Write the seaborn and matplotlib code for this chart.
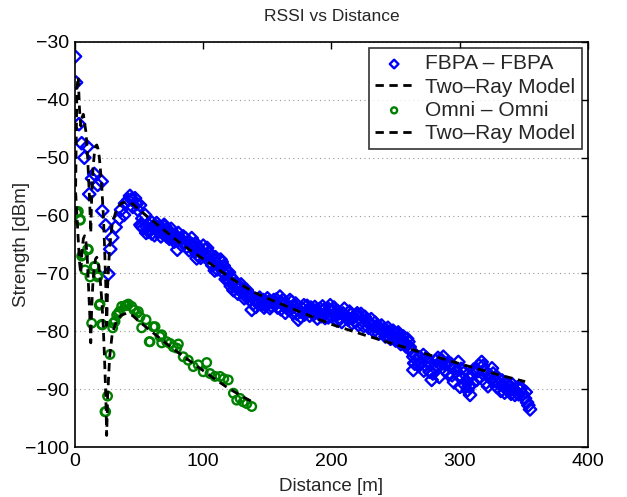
import numpy as np
import pandas as pd
import seaborn as sns
import matplotlib.pyplot as plt

# Measured RSSI, FBPA - FBPA link
fbpa_x = [0, 0.8, 3.1, 5.2, 7.3, 9.6, 11.1, 13.3, 15.0, 17.7, 20.8, 21.3, 23.9, 26.0, 27.5, 29.1,
          31.7, 34.6, 35.9, 38.2, 39.0, 41.6,
          42.9, 44, 46.8, 48, 50.7, 51, 52, 53.3, 54.6, 56, 57, 58.5, 59.8, 61, 62.5, 63.7, 65, 66.5,
          68, 68.9, 70.2, 71.5, 72.8, 74, 75.5, 76.7, 78, 79.3, 79.8, 81, 82.5, 84.4, 85.5, 87.1,
          88.5, 90, 91, 92.5, 93.6, 94.9, 96, 97.5, 99, 100, 101.4, 102.5, 104, 105.3, 106.5, 108,
          109, 110.5, 112, 113, 114.4, 115.6, 117, 118.3, 119.5, 121, 122.3, 123.5, 125, 126.5,
          128.7, 130, 131.5, 133, 135.1, 136.5, 137.8, 139, 140.5, 142, 144, 145.5, 146.8, 148.5,
          150, 151.5, 153, 155, 156.5, 158, 159.8, 161, 163, 165.1, 166.5, 167.6, 169, 170.5,
          171.5, 173, 174.1, 175.4, 177, 178.5, 180, 182, 184, 186, 188, 190, 192, 194, 196,
          197.5, 199, 201, 203, 205, 207, 209, 211, 213, 215, 217, 218.5, 220, 222, 224, 226,
          228, 230, 232, 234, 236, 238, 240, 241.5, 243, 245, 247, 249, 251, 253, 255, 257, 259,
          261, 262.5, 263.8, 265, 263.8, 267, 269, 271.6, 273, 275, 276.5, 278.1, 280, 281.5,
          283, 285, 287.2, 289, 290.5, 292.4, 294, 295.5, 297, 298.9, 300.2, 302, 304, 306, 308,
          309.5, 311, 313.2, 315, 317.1, 319, 320.5, 322, 323.5, 325.1, 327, 328.8, 330.5, 332,
          334, 336.6, 338, 340, 342, 344, 347, 349, 350.9, 352.5, 354.8,
          45, 47.5, 49, 52.5, 55.5, 57.5, 60, 62, 64.5, 67, 69.5, 71, 73.5, 75, 77.5, 80.5, 83,
          84, 86, 89, 91.5, 94, 95.5, 98, 100.5, 103, 105, 107, 109.5, 111, 113.5, 116, 117.5,
          120, 121.5, 124, 127, 129.5, 132, 134, 138, 141, 143, 147.5, 149, 152, 154, 157, 160.5,
          162, 164, 168, 170, 172, 176, 179, 181, 183, 185, 187, 189, 191, 193, 195, 198, 200,
          202, 204, 206, 208, 210, 212, 214, 216, 219, 221, 223, 225, 227, 229, 231, 233, 235,
          237, 239, 242, 244, 246, 248, 250, 252, 254, 256, 258, 260,
          264.5, 266, 268, 270, 272, 274, 277, 279, 282, 284, 286, 288, 291, 293, 296, 299.5,
          301, 303, 305, 307, 310, 312, 314, 316, 318, 321, 324, 326, 329.5, 331, 333, 335, 337,
          339, 341, 343, 345, 346, 348, 351.5, 353.5]
fbpa_y = [-32.5, -37.0, -44.2, -47.5, -50.0, -48.1, -56.3, -53.6, -52.8, -54.7, -54.1, -59.2, -61.7,
          -70.1, -65.8, -63.8, -62.0, -60.5, -59.0, -59.9, -57.9, -57.3,
          -56.6, -57.2, -57.0, -58.0, -58.2, -61.6, -61.9, -62.2, -59.9, -62.0, -61.5, -62.5,
          -63.1, -62.0, -61.8, -61.3, -62.8, -62.2, -63.0, -62.5, -61.9, -63.6, -63.4, -62.8,
          -63.2, -63.9, -63.3, -63.9, -65.9, -64.2, -64.0, -63.6, -64.8, -65.4, -64.5, -65.0,
          -63.9, -65.6, -66.2, -67.4, -65.5, -66.0, -66.5, -65.2, -65.9, -66.8, -67.2, -68.0,
          -67.0, -67.5, -69.5, -68.2, -68.6, -69.0, -68.0, -69.7, -70.2, -69.6, -71.1, -70.5,
          -71.8, -72.9, -71.9, -72.6, -72.3, -73.2, -72.8, -73.9, -73.7, -74.5, -76.3, -75.2,
          -74.6, -75.0, -74.2, -75.4, -74.6, -75.5, -74.3, -74.8, -75.6, -74.6, -75.3, -75.9,
          -74.0, -75.0, -75.6, -75.7, -76.3, -74.6, -74.9, -75.8, -76.6, -77.0, -78.0, -76.6,
          -76.0, -75.5, -76.8, -76.2, -75.9, -77.1, -76.4, -76.9, -77.4, -76.3, -76.8, -77.6,
          -75.5, -76.5, -77.2, -76.6, -77.8, -76.9, -77.3, -78.0, -77.1, -77.6, -78.3, -76.9,
          -77.8, -78.2, -77.5, -78.4, -78.6, -79.0, -78.5, -79.3, -79.5, -80.0, -79.6, -80.6,
          -80.1, -80.8, -80.3, -81.2, -80.6, -81.5, -82.0, -81.3, -82.7, -83.5, -84.4, -85.6,
          -86.7, -85.0, -84.5, -84.1, -85.9, -85.2, -87.0, -88.4, -86.2, -85.1, -84.6, -85.8,
          -84.4, -86.8, -85.5, -86.1, -87.6, -88.8, -86.9, -85.3, -89.6, -88.0, -89.3, -90.2,
          -91.0, -87.5, -86.6, -88.4, -85.9, -85.3, -86.7, -88.9, -89.5, -87.6, -86.4, -88.6,
          -89.6, -88.9, -90.3, -89.4, -90.1, -89.5, -90.8, -90.0, -90.5, -90.1, -90.8, -91.6,
          -92.3, -93.5,
          -58.5, -57.8, -59.0, -60.5, -63.0, -62.8, -61.2, -63.4, -62.0, -63.6, -61.6, -62.4,
          -64.0, -62.3, -64.5, -63.0, -65.1, -64.6, -63.9, -66.0, -65.0, -64.8, -66.8, -67.3,
          -67.0, -65.6, -66.5, -68.6, -67.2, -69.3, -67.6, -68.7, -71.0, -69.8, -72.2, -71.2,
          -73.5, -71.9, -74.3, -72.9, -74.0, -75.8, -74.8, -75.9, -74.9, -76.0, -75.0, -74.5,
          -76.2, -74.6, -76.8, -75.9, -76.9, -75.2, -77.5, -77.1, -75.6, -77.3, -76.6, -75.8,
          -77.8, -76.1, -75.7, -77.7, -76.2, -77.4, -75.9, -78.1, -76.9, -78.4, -76.1, -77.7,
          -76.6, -78.6, -77.2, -78.9, -77.0, -79.1, -78.0, -79.4, -77.9, -80.0, -79.2, -80.4,
          -79.0, -80.9, -79.4, -81.3, -79.9, -81.6, -80.2, -82.2, -80.9, -82.6, -81.8,
          -85.5, -84.2, -86.0, -85.3, -86.8, -84.6, -85.5, -87.3, -86.0, -87.9, -85.0, -85.6,
          -87.4, -85.6, -86.3, -87.8, -86.5, -87.2, -88.6, -89.5, -89.0, -87.0, -86.9, -87.9,
          -86.0, -87.4, -88.2, -87.3, -88.0, -89.1, -88.5, -90.6, -89.0, -90.2, -89.2, -91.0,
          -89.7, -90.9, -89.8, -90.5, -92.8]

# Measured RSSI, Omni - Omni link
omni_x = [1.3, 2.6, 3.9, 4.2, 5.2, 6.5, 7.8, 9.9, 10.4, 11.7, 13.0, 15.0, 15.6, 17.7, 18.2, 19.0,
          19.5, 20.8, 21.3, 23.4, 23.9, 25.4, 27.3, 29.4, 29.9, 31.2, 32.5, 33.8, 34.6, 36.4, 39.0,
          40.3, 41.6, 44.2, 46.0, 48.1, 49.4, 50.7, 52.0, 55.4, 57.9, 58.5, 61.0, 62.4, 66.3,
          67.6, 67.6, 71.5, 74.1, 76.7, 79.3, 80.6, 84.4, 88.3, 92.2, 96.1, 100.0, 102.7, 105.3,
          109.2, 113.1, 116.0, 119.5, 123.5, 126.1, 128.7, 131.2, 134.0, 137.8]
omni_y = [-59.5, -59.3, -60.8, -60.7, -67.0, -66.8, -69.4, -65.8, -65.9, -70.6, -78.6, -68.8,
          -68.8, -70.6, -70.3, -75.5, -75.3, -78.8, -78.9, -93.9, -93.9, -91.2, -84.0, -79.4,
          -78.6, -78.3, -77.2, -76.9, -76.6, -75.7, -75.6, -75.5, -75.3, -75.7, -76.3, -76.9,
          -76.6, -77.5, -79.4, -78.0, -81.8, -81.8, -79.2, -79.2, -80.9, -80.6, -82.0, -81.8,
          -82.1, -82.7, -82.9, -82.2, -84.4, -85.0, -86.1, -85.8, -87.0, -85.4, -87.3, -87.8,
          -87.8, -88.2, -88.4, -90.7, -91.9, -91.6, -92.2, -92.5, -93.0]

# Two-ray model curves
model_fbpa_x = [0.5, 1.5, 2.5, 3.5, 4.5, 5.5, 6.5, 7.5, 8.5, 9.5, 10.5, 11.5, 12.3, 13, 14, 15,
                16, 17, 18, 19, 20, 21, 22, 23, 24, 24.7, 25.5, 27, 29, 32, 36, 40, 45, 50, 60,
                70, 80, 90, 100, 110, 120, 130, 140, 150, 175, 200, 225, 250, 275, 300, 325, 351]
model_fbpa_y = [-55.0, -38.0, -36.0, -41.5, -44.5, -43.0, -42.5, -44.0, -45.5, -48.5, -53.0,
                -58.0, -63.0, -57.0, -52.0, -49.5, -48.0, -47.8, -48.5, -50.0, -52.5, -55.5,
                -59.5, -65.0, -72.0, -79.0, -72.0, -65.5, -61.5, -59.2, -57.9, -57.6, -58.0,
                -59.0, -60.8, -62.6, -64.4, -66.0, -67.5, -69.0, -70.6, -72.0, -73.3, -74.3,
                -76.6, -78.8, -80.6, -82.3, -84.0, -85.6, -87.2, -88.7]
model_omni_x = [0.5, 1.5, 2.5, 3.5, 4.5, 5.5, 6.5, 7.5, 8.5, 9.5, 10.5, 11.5, 12.3, 13, 14, 15,
                16, 17, 18, 19, 20, 21, 22, 23, 24, 24.7, 25.5, 27, 29, 32, 36, 40, 45, 50, 60,
                70, 80, 90, 100, 110, 120, 130, 139]
model_omni_y = [-56.0, -60.0, -64.0, -68.0, -70.0, -66.0, -64.0, -63.5, -64.5, -67.0, -72.0,
                -77.0, -82.0, -76.0, -71.5, -69.0, -67.5, -67.2, -68.0, -69.5, -72.0, -75.0,
                -79.0, -84.5, -91.0, -98.0, -91.0, -84.5, -80.5, -78.4, -77.2, -76.9, -77.3,
                -78.3, -80.1, -81.9, -83.6, -85.2, -86.8, -88.4, -89.9, -91.2, -92.3]

fbpa = pd.DataFrame({"Distance": fbpa_x, "Strength": fbpa_y})
omni = pd.DataFrame({"Distance": omni_x, "Strength": omni_y})
m_fbpa = pd.DataFrame({"Distance": model_fbpa_x, "Strength": model_fbpa_y})
m_omni = pd.DataFrame({"Distance": model_omni_x, "Strength": model_omni_y})

sns.set_style("white")
plt.rcParams['font.family'] = ['Liberation Sans', 'DejaVu Sans']

fig, ax = plt.subplots(figsize=(6.27, 4.97), dpi=100)
fig.subplots_adjust(left=0.1196, right=0.9378, top=0.9155, bottom=0.1006)

dash = (3, 2)
sns.scatterplot(data=fbpa, x="Distance", y="Strength", ax=ax, marker="D", s=40,
                facecolor="none", edgecolor="#0000ff", linewidth=1.7, label="FBPA \u2013 FBPA",
                zorder=2)
sns.lineplot(data=m_fbpa, x="Distance", y="Strength", ax=ax, color="black", lw=2,
             sort=False, estimator=None, label="Two\u2013Ray Model", zorder=3)
sns.scatterplot(data=omni, x="Distance", y="Strength", ax=ax, marker="o", s=38,
                facecolor="none", edgecolor="#008000", linewidth=1.7, label="Omni \u2013 Omni",
                zorder=2)
sns.lineplot(data=m_omni, x="Distance", y="Strength", ax=ax, color="black", lw=2,
             sort=False, estimator=None, label="Two\u2013Ray Model", zorder=3)
for ln in ax.get_lines():
    ln.set_dashes(dash)

ax.set_xlim(0, 400)
ax.set_ylim(-100, -30)
ax.set_xticks([0, 100, 200, 300, 400])
ax.set_yticks(np.arange(-100, -29, 10))
ax.yaxis.grid(True, linestyle=(0, (1, 3)), color="#999999", linewidth=0.8)
ax.xaxis.grid(False)
ax.tick_params(direction="in", top=True, right=True, length=5, width=1, labelsize=14,
               colors="black", pad=4)
for sp in ax.spines.values():
    sp.set_color("black")
    sp.set_linewidth(1.2)

ax.set_title("RSSI vs Distance", fontsize=12.5, pad=15)
ax.set_xlabel("Distance [m]", fontsize=13.5, labelpad=6)
ax.set_ylabel("Strength [dBm]", fontsize=13.5, labelpad=-3)

leg = ax.legend(loc="upper right", fontsize=15, frameon=True, fancybox=False,
                edgecolor="black", handlelength=1.8, borderaxespad=0.3, labelspacing=0.2,
                borderpad=0.3, handletextpad=0.6, markerscale=0.7)
leg.get_frame().set_linewidth(1.2)

fig.savefig("out.png", dpi=100)
